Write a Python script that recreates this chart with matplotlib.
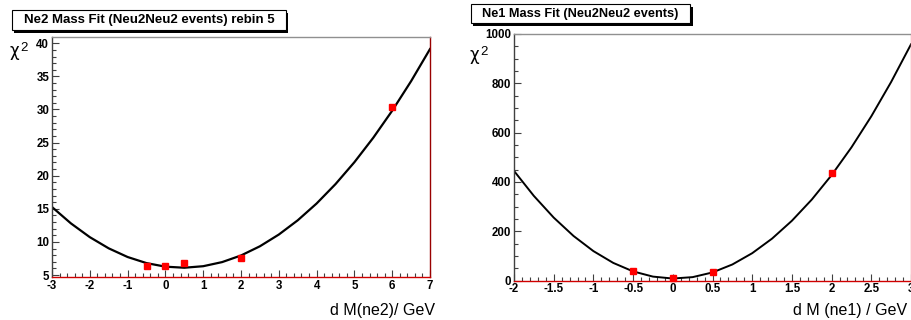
import numpy as np
import matplotlib.pyplot as plt
from matplotlib.patches import Rectangle
from matplotlib.ticker import MultipleLocator

#------------------------------------------------------------------------
#!Datos

#Ne2: puntos medidos
ne2_x = [-0.5, 0.0, 0.5, 2.0, 6.0]
ne2_chi2 = [6.4, 6.4, 6.85, 7.6, 30.4]

#Ne2: curva del ajuste
ne2_fit_x = [-3.0, -2.5, -2.0, -1.5, -1.0, -0.5, 0.0, 0.5, 1.0, 1.5, 2.0,
             2.5, 3.0, 3.5, 4.0, 4.5, 5.0, 5.5, 6.0, 6.5, 7.0]
ne2_fit_y = [15.27, 12.80, 10.72, 9.03, 7.72, 6.80, 6.26, 6.10, 6.33, 6.95, 7.95,
             9.34, 11.11, 13.26, 15.80, 18.73, 22.04, 25.74, 29.82, 34.28, 39.13]

#Ne1: puntos medidos
ne1_x = [-0.5, 0.0, 0.5, 2.0]
ne1_chi2 = [37, 9, 34, 435]

#Ne1: curva del ajuste
ne1_fit_x = [-2.0, -1.75, -1.5, -1.25, -1.0, -0.75, -0.5, -0.25, 0.0, 0.25, 0.5,
             0.75, 1.0, 1.25, 1.5, 1.75, 2.0, 2.25, 2.5, 2.75, 3.0]
ne1_fit_y = [444.6, 343.2, 255.2, 180.6, 119.3, 71.4, 36.9, 15.8, 8.0, 13.7, 32.7,
             65.0, 110.8, 169.9, 242.4, 328.2, 427.5, 540.1, 666.1, 805.5, 958.2]

plt.rcParams["axes.unicode_minus"] = False

W, H = 912, 320
fig = plt.figure(figsize=(W / 100, H / 100), dpi=100)
fig.patch.set_facecolor("white")


#------------------------------------------------------------------------
#!Estilo tipo ROOT

def marco(ax, color_der):
    for s in ["left", "top", "right", "bottom"]:
        ax.spines[s].set_linewidth(1.0)
    ax.spines["left"].set_color("#404040")
    ax.spines["top"].set_color("#909090")
    ax.spines["right"].set_color(color_der)
    ax.spines["bottom"].set_color("#d00000")
    ax.tick_params(which="both", direction="in", top=False, right=False,
                   colors="#404040", labelcolor="black", width=0.8, pad=2)
    ax.tick_params(which="major", length=5, labelsize=8.3)
    ax.tick_params(which="minor", length=2.8)
    for lab in ax.get_xticklabels() + ax.get_yticklabels():
        lab.set_family("Liberation Sans")
        lab.set_fontweight("bold")

#Caja del titulo con sombra (coordenadas en pixeles)
def caja_titulo(x0, y0, x1, y1, texto, tam):
    sx, sy = 2.5, 2.5
    sombra = Rectangle(((x0 + sx) / W, 1 - (y1 + sy) / H), (x1 - x0) / W, (y1 - y0) / H,
                       transform=fig.transFigure, facecolor="black", edgecolor="black", lw=0)
    caja = Rectangle((x0 / W, 1 - y1 / H), (x1 - x0) / W, (y1 - y0) / H,
                     transform=fig.transFigure, facecolor="white", edgecolor="black", lw=0.8)
    fig.patches.append(sombra)
    fig.patches.append(caja)
    fig.text((x0 + x1) / 2 / W, 1 - (y0 + y1) / 2 / H, texto, ha="center", va="center",
             family="Liberation Sans", weight="bold", fontsize=tam)

#Etiqueta chi^2 (letra recta, como en ROOT)
def chi2(x, y):
    fig.text(x / W, 1 - y / H, "χ", ha="left", va="center",
             family="DejaVu Sans", fontsize=12)
    fig.text((x + 10) / W, 1 - (y - 3) / H, "2", ha="left", va="center",
             family="Liberation Sans", fontsize=9.5)


#------------------------------------------------------------------------
#!Grafica Ne2

ax1 = fig.add_axes([52 / W, 1 - 277 / H, 378 / W, 240 / H])
ax1.plot(ne2_fit_x, ne2_fit_y, color="black", lw=1.6, zorder=2)
ax1.plot(ne2_x, ne2_chi2, "s", color="red", ms=5, mec="red", zorder=3)
ax1.set_xlim(-3, 7)
ax1.set_ylim(4.7, 40.95)
ax1.xaxis.set_major_locator(MultipleLocator(1))
ax1.xaxis.set_minor_locator(MultipleLocator(0.2))
ax1.yaxis.set_major_locator(MultipleLocator(5))
ax1.yaxis.set_minor_locator(MultipleLocator(1))
marco(ax1, "#990000")
caja_titulo(12, 10, 286, 30, "Ne2 Mass Fit (Neu2Neu2 events) rebin 5", 9.5)
chi2(10, 51)
fig.text(435 / W, 1 - 311 / H, "d M(ne2)/ GeV", ha="right", va="center",
         family="Liberation Sans", fontsize=11.5)


#------------------------------------------------------------------------
#!Grafica Ne1

ax2 = fig.add_axes([514 / W, 1 - 280.5 / H, 397 / W, 246.5 / H])
ax2.plot(ne1_fit_x, ne1_fit_y, color="black", lw=1.4, zorder=2)
ax2.plot(ne1_x, ne1_chi2, "s", color="red", ms=5, mec="red", zorder=3, clip_on=False)
ax2.set_xlim(-2, 3)
ax2.set_ylim(0, 1000)
ax2.xaxis.set_minor_locator(MultipleLocator(0.1))
ax2.yaxis.set_major_locator(MultipleLocator(200))
ax2.yaxis.set_minor_locator(MultipleLocator(50))
ax2.set_xticks(np.arange(-2, 3.01, 0.5))
ax2.set_xticklabels(["-2", "-1.5", "-1", "-0.5", "0", "0.5", "1", "1.5", "2", "2.5", "3"])
marco(ax2, "#f09090")
caja_titulo(471, 4, 690, 23, "Ne1 Mass Fit (Neu2Neu2 events)", 9.2)
chi2(470, 55)
fig.text(907 / W, 1 - 310 / H, "d M (ne1) / GeV", ha="right", va="center",
         family="Liberation Sans", fontsize=11.5)

plt.savefig("out.png", dpi=100)
